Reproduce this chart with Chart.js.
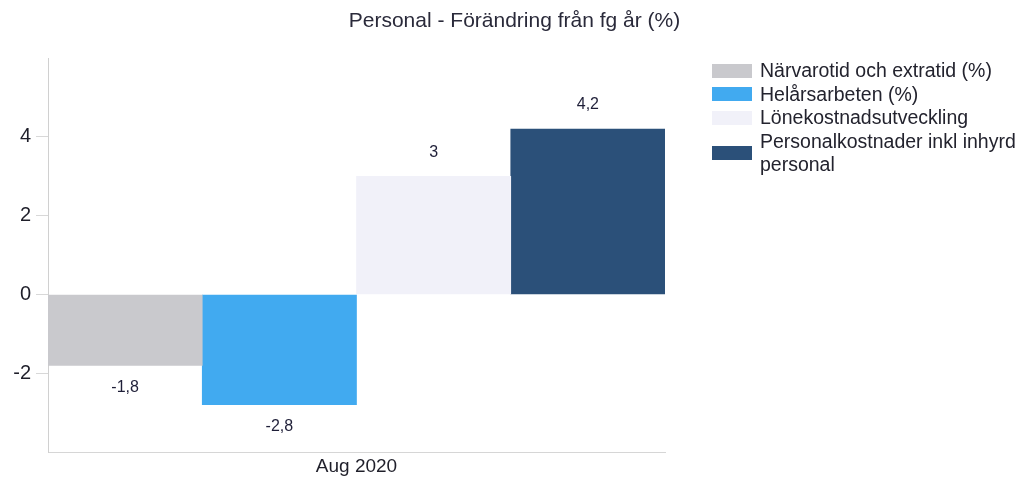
<!DOCTYPE html>
<html>
<head>
<meta charset="utf-8">
<script src="https://cdn.jsdelivr.net/npm/chart.js@4/dist/chart.umd.min.js"></script>
<style>
  html, body { margin: 0; padding: 0; background: #fff; }
  #wrap { position: relative; width: 1029px; height: 477px; }
  #legend { position: absolute; left: 712px; top: 59px; font-family: "Liberation Sans", Arial, sans-serif; font-size: 19.5px; line-height: 23.5px; color: #23232e; }
  .li { display: flex; align-items: center; }
  .box { width: 40px; height: 14px; flex: none; margin-right: 8px; }
  .txt { width: 265px; }
</style>
</head>
<body>
<div id="wrap">
  <canvas id="c" width="1029" height="477"></canvas>
  <div id="legend"></div>
</div>
<script>
const categories = ['Aug 2020'];
const seriesNames = ['Närvarotid och extratid (%)', 'Helårsarbeten (%)', 'Lönekostnadsutveckling', 'Personalkostnader inkl inhyrd personal'];
const seriesValues = [[-1.8], [-2.8], [3], [4.2]];
const seriesColors = ['#c9c9cd', '#41aaf0', '#f1f1f9', '#2b5079'];
const yTicks = [-2, 0, 2, 4];
const titleText = 'Personal - Förändring från fg år (%)';

const FONT = '"Liberation Sans", Arial, sans-serif';

const datasets = seriesNames.map((name, i) => ({
  label: name,
  data: seriesValues[i],
  backgroundColor: seriesColors[i],
  borderWidth: 0,
  categoryPercentage: 1,
  barPercentage: 1
}));

const valueLabels = {
  id: 'valueLabels',
  afterDatasetsDraw(chart) {
    const ctx = chart.ctx;
    ctx.save();
    ctx.font = '16px ' + FONT;
    ctx.fillStyle = '#1f1f38';
    ctx.textAlign = 'center';
    ctx.textBaseline = 'middle';
    chart.data.datasets.forEach((ds, i) => {
      const meta = chart.getDatasetMeta(i);
      meta.data.forEach((bar, j) => {
        const v = ds.data[j];
        const txt = String(v).replace('.', ',');
        const y = v >= 0 ? bar.y - 24 : bar.y + 22;
        ctx.fillText(txt, bar.x, y);
      });
    });
    ctx.restore();
  }
};

new Chart(document.getElementById('c'), {
  type: 'bar',
  data: { labels: categories, datasets },
  options: {
    responsive: false,
    animation: false,
    layout: { padding: 0 },
    plugins: {
      legend: { display: false },
      tooltip: { enabled: false },
      title: {
        display: true,
        text: titleText,
        color: '#2a2a3a',
        font: { family: FONT, size: 21, weight: 'normal' },
        padding: { top: 9, bottom: 24 }
      }
    },
    scales: {
      x: {
        grid: { display: false, drawTicks: false },
        border: { display: true, color: '#d6d6d6' },
        ticks: { color: '#1f1f2a', font: { family: FONT, size: 19 }, padding: 3 },
        afterFit(s) { s.height = 25; }
      },
      y: {
        min: -4,
        max: 6,
        afterBuildTicks(s) { s.ticks = yTicks.map(v => ({ value: v })); },
        grid: { drawOnChartArea: false, drawTicks: true, tickLength: 12, color: '#d8d8d8' },
        border: { display: true, color: '#d0d0d0' },
        ticks: { color: '#1f1f2a', font: { family: FONT, size: 20 }, padding: 5 },
        afterFit(s) { s.width = 48; }
      },
      yRight: {
        type: 'linear',
        position: 'right',
        display: true,
        grid: { display: false },
        border: { display: false },
        ticks: { display: false },
        afterFit(s) { s.width = 364; }
      }
    }
  },
  plugins: [valueLabels]
});

const legend = document.getElementById('legend');
seriesNames.forEach((name, i) => {
  const row = document.createElement('div');
  row.className = 'li';
  const box = document.createElement('div');
  box.className = 'box';
  box.style.background = seriesColors[i];
  const t = document.createElement('div');
  t.className = 'txt';
  t.textContent = name;
  row.appendChild(box);
  row.appendChild(t);
  legend.appendChild(row);
});
</script>
</body>
</html>
